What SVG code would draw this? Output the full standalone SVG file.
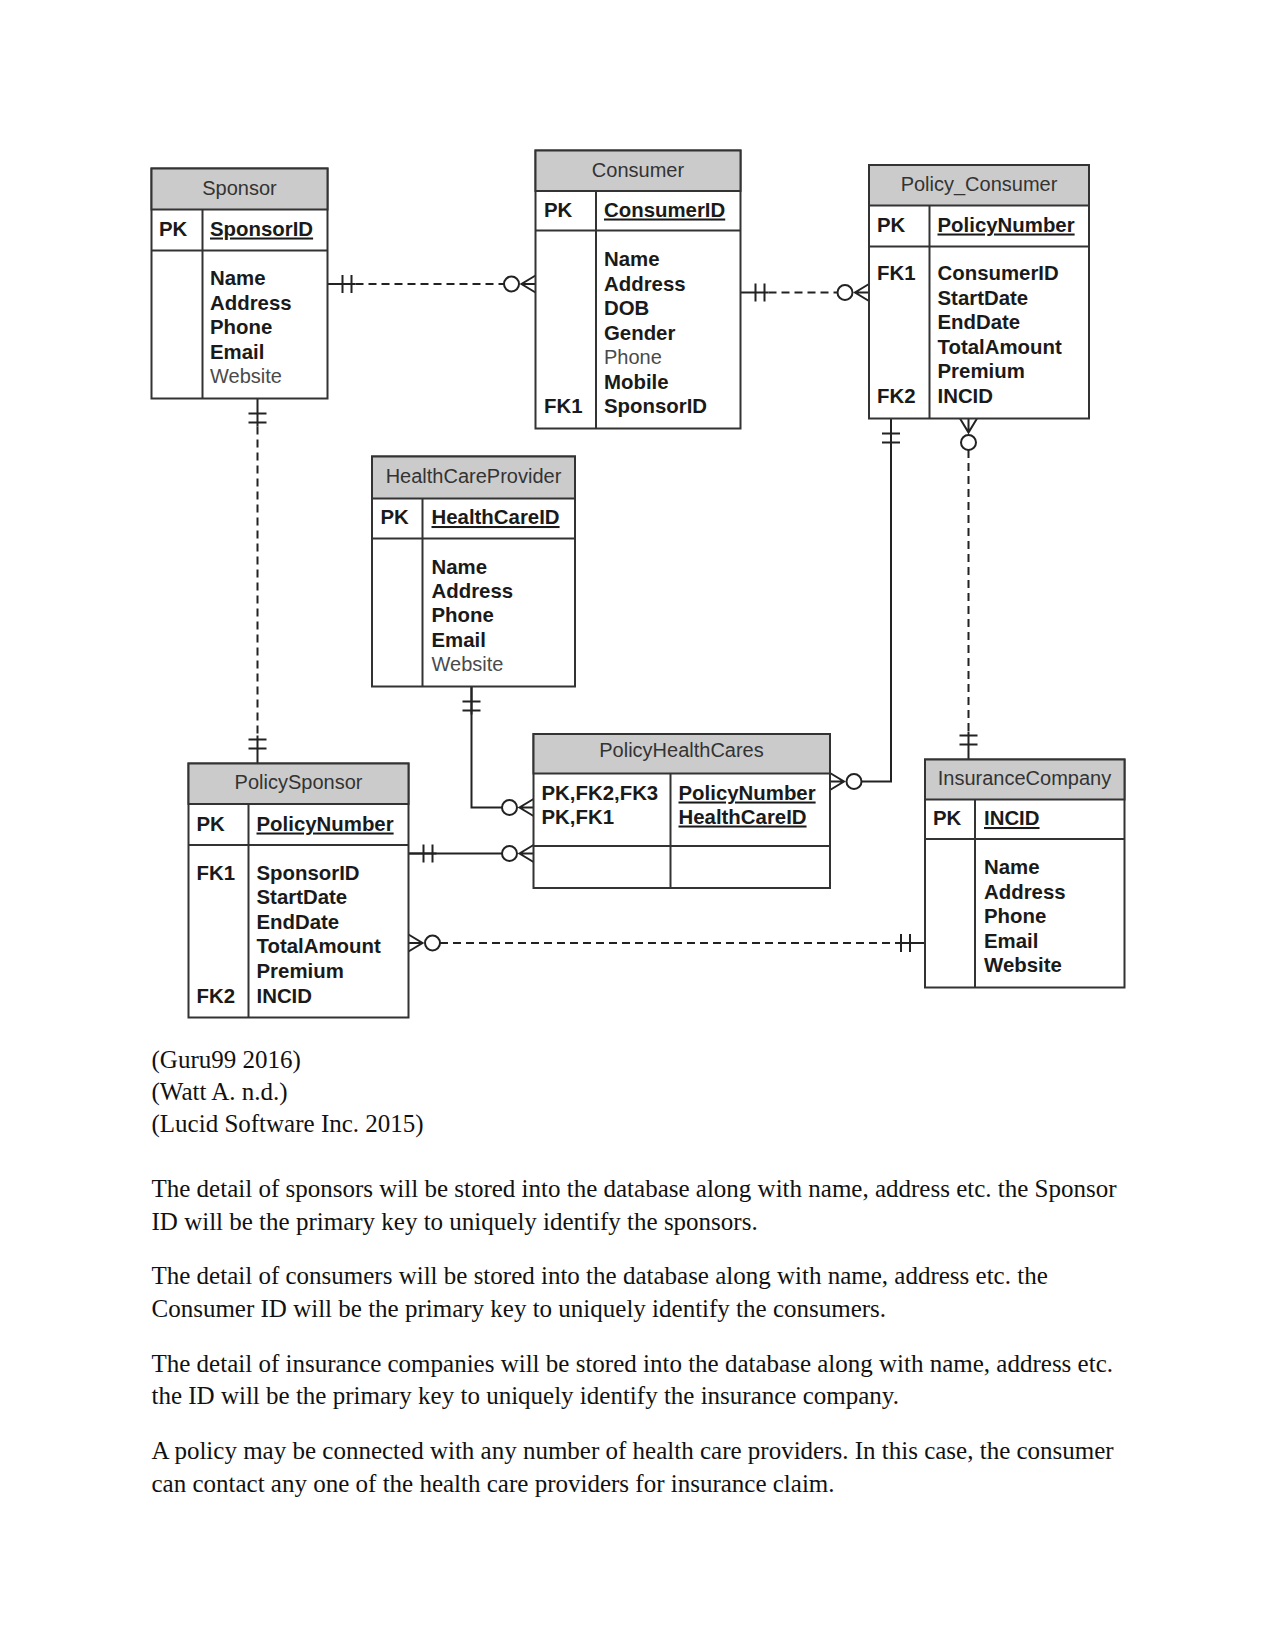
<svg xmlns="http://www.w3.org/2000/svg" xmlns:xlink="http://www.w3.org/1999/xlink" width="1275" height="1650" viewBox="0 0 1275 1650">
<style>
.box{fill:#fff;stroke:#333;stroke-width:2}
.hdr{fill:#cbcbcb;stroke:#333;stroke-width:2}
.ln{stroke:#333;stroke-width:2}
.t{font-family:"Liberation Sans",Arial,sans-serif;font-size:20px;fill:#333;text-anchor:middle}
.k{font-family:"Liberation Sans",Arial,sans-serif;font-size:20.4px;font-weight:bold;fill:#1a1a1a}
.g{font-family:"Liberation Sans",Arial,sans-serif;font-size:20px;fill:#4a4a4a}
.u{text-decoration:underline}
.p{font-family:"Liberation Serif","Times New Roman",serif;font-size:25px;fill:#111}
.c{stroke:#222;stroke-width:2;fill:none}
.d{stroke-dasharray:8 5}
.m{stroke:#222;stroke-width:2;fill:#fff}
</style>
<defs>
<g id="zm">
<path class="c" d="M0,-8.5 L14,0 L0,8.5 M0,0 H14"/>
<circle class="m" cx="24" cy="0" r="7.5"/>
</g>
<g id="one">
<path class="c" d="M0,0 H28 M15,-9 V9 M24,-9 V9"/>
</g>
</defs>

<rect width="1275" height="1650" fill="#fff"/>

<g id="connectors">
<!-- Sponsor - Consumer -->
<line class="c d" x1="355.5" y1="284" x2="504" y2="284"/>
<use xlink:href="#one" transform="translate(327.5,284)"/>
<use xlink:href="#zm" transform="translate(535.5,284) rotate(180)"/>
<!-- Consumer - Policy_Consumer -->
<line class="c d" x1="768.5" y1="292.5" x2="837.5" y2="292.5"/>
<use xlink:href="#one" transform="translate(740.5,292.5)"/>
<use xlink:href="#zm" transform="translate(869,292.5) rotate(180)"/>
<!-- Sponsor - PolicySponsor -->
<line class="c d" x1="257.5" y1="426.5" x2="257.5" y2="735.5"/>
<use xlink:href="#one" transform="translate(257.5,398.5) rotate(90)"/>
<use xlink:href="#one" transform="translate(257.5,763.5) rotate(-90)"/>
<!-- HealthCareProvider - PolicyHealthCares -->
<path class="c" d="M471.5,686.5 V807.5 H502"/>
<use xlink:href="#one" transform="translate(471.5,686.5) rotate(90)"/>
<use xlink:href="#zm" transform="translate(533.5,807.5) rotate(180)"/>
<!-- PolicySponsor - PolicyHealthCares -->
<line class="c" x1="408.5" y1="853.5" x2="502" y2="853.5"/>
<use xlink:href="#one" transform="translate(408.5,853.5)"/>
<use xlink:href="#zm" transform="translate(533.5,853.5) rotate(180)"/>
<!-- PolicySponsor - InsuranceCompany -->
<line class="c d" x1="440" y1="943" x2="897" y2="943"/>
<use xlink:href="#zm" transform="translate(408.5,943)"/>
<use xlink:href="#one" transform="translate(925,943) rotate(180)"/>
<!-- Policy_Consumer - PolicyHealthCares -->
<path class="c" d="M891,418.5 V781.5 H861.5"/>
<use xlink:href="#one" transform="translate(891,418.5) rotate(90)"/>
<use xlink:href="#zm" transform="translate(830,781.5)"/>
<!-- Policy_Consumer - InsuranceCompany -->
<line class="c d" x1="968.5" y1="450" x2="968.5" y2="731.5"/>
<use xlink:href="#zm" transform="translate(968.5,418.5) rotate(90)"/>
<use xlink:href="#one" transform="translate(968.5,759.5) rotate(-90)"/>
</g>

<g id="sponsor">
<rect class="box" x="151.5" y="168.5" width="176" height="230"/>
<rect class="hdr" x="151.5" y="168.5" width="176" height="41"/>
<line class="ln" x1="151.5" y1="250.5" x2="327.5" y2="250.5"/>
<line class="ln" x1="202.5" y1="209.5" x2="202.5" y2="398.5"/>
<text class="t" x="239.5" y="195">Sponsor</text>
<text class="k" x="159" y="235.5">PK</text>
<text class="k u" x="210" y="235.5">SponsorID</text>
<text class="k"><tspan x="210" y="285">Name</tspan><tspan x="210" y="309.5">Address</tspan><tspan x="210" y="334">Phone</tspan><tspan x="210" y="358.5">Email</tspan></text>
<text class="g" x="210" y="383">Website</text>
</g>

<g id="consumer">
<rect class="box" x="535.5" y="150.5" width="205" height="278"/>
<rect class="hdr" x="535.5" y="150.5" width="205" height="40.5"/>
<line class="ln" x1="535.5" y1="230.5" x2="740.5" y2="230.5"/>
<line class="ln" x1="596" y1="191" x2="596" y2="428.5"/>
<text class="t" x="638" y="176.5">Consumer</text>
<text class="k" x="544" y="216.5">PK</text>
<text class="k u" x="604" y="216.5">ConsumerID</text>
<text class="k"><tspan x="604" y="266">Name</tspan><tspan x="604" y="290.5">Address</tspan><tspan x="604" y="315">DOB</tspan><tspan x="604" y="339.5">Gender</tspan></text>
<text class="g" x="604" y="364">Phone</text>
<text class="k"><tspan x="604" y="388.5">Mobile</tspan><tspan x="604" y="413">SponsorID</tspan></text>
<text class="k" x="544" y="413">FK1</text>
</g>

<g id="policy_consumer">
<rect class="box" x="869" y="165" width="220" height="253.5"/>
<rect class="hdr" x="869" y="165" width="220" height="40.5"/>
<line class="ln" x1="869" y1="246.5" x2="1089" y2="246.5"/>
<line class="ln" x1="929.5" y1="205.5" x2="929.5" y2="418.5"/>
<text class="t" x="979" y="191">Policy_Consumer</text>
<text class="k" x="877" y="231.5">PK</text>
<text class="k u" x="937.5" y="231.5">PolicyNumber</text>
<text class="k"><tspan x="877" y="280">FK1</tspan><tspan x="877" y="403">FK2</tspan></text>
<text class="k"><tspan x="937.5" y="280">ConsumerID</tspan><tspan x="937.5" y="304.5">StartDate</tspan><tspan x="937.5" y="329">EndDate</tspan><tspan x="937.5" y="353.5">TotalAmount</tspan><tspan x="937.5" y="378">Premium</tspan><tspan x="937.5" y="403">INCID</tspan></text>
</g>

<g id="healthcareprovider">
<rect class="box" x="372" y="456.5" width="203" height="230"/>
<rect class="hdr" x="372" y="456.5" width="203" height="42"/>
<line class="ln" x1="372" y1="538.5" x2="575" y2="538.5"/>
<line class="ln" x1="422.5" y1="498.5" x2="422.5" y2="686.5"/>
<text class="t" x="473.5" y="483">HealthCareProvider</text>
<text class="k" x="380.5" y="524">PK</text>
<text class="k u" x="431.5" y="524">HealthCareID</text>
<text class="k"><tspan x="431.5" y="573.5">Name</tspan><tspan x="431.5" y="597.5">Address</tspan><tspan x="431.5" y="622">Phone</tspan><tspan x="431.5" y="646.5">Email</tspan></text>
<text class="g" x="431.5" y="671">Website</text>
</g>

<g id="policysponsor">
<rect class="box" x="188.5" y="763.5" width="220" height="254"/>
<rect class="hdr" x="188.5" y="763.5" width="220" height="40.5"/>
<line class="ln" x1="188.5" y1="845" x2="408.5" y2="845"/>
<line class="ln" x1="248.5" y1="804" x2="248.5" y2="1017.5"/>
<text class="t" x="298.5" y="789">PolicySponsor</text>
<text class="k" x="196.5" y="830.5">PK</text>
<text class="k u" x="256.5" y="830.5">PolicyNumber</text>
<text class="k"><tspan x="196.5" y="879.5">FK1</tspan><tspan x="196.5" y="1002.5">FK2</tspan></text>
<text class="k"><tspan x="256.5" y="879.5">SponsorID</tspan><tspan x="256.5" y="904">StartDate</tspan><tspan x="256.5" y="928.5">EndDate</tspan><tspan x="256.5" y="953">TotalAmount</tspan><tspan x="256.5" y="977.5">Premium</tspan><tspan x="256.5" y="1002.5">INCID</tspan></text>
</g>

<g id="policyhealthcares">
<rect class="box" x="533.5" y="734" width="296.5" height="154"/>
<rect class="hdr" x="533.5" y="734" width="296.5" height="39.5"/>
<line class="ln" x1="533.5" y1="846" x2="830" y2="846"/>
<line class="ln" x1="670.5" y1="773.5" x2="670.5" y2="888"/>
<text class="t" x="681.5" y="757">PolicyHealthCares</text>
<text class="k"><tspan x="541.5" y="799.5">PK,FK2,FK3</tspan><tspan x="541.5" y="823.5">PK,FK1</tspan></text>
<text class="k u"><tspan x="678.5" y="799.5">PolicyNumber</tspan><tspan x="678.5" y="823.5">HealthCareID</tspan></text>
</g>

<g id="insurancecompany">
<rect class="box" x="925" y="759.5" width="199.5" height="228"/>
<rect class="hdr" x="925" y="759.5" width="199.5" height="40"/>
<line class="ln" x1="925" y1="839" x2="1124.5" y2="839"/>
<line class="ln" x1="975" y1="799.5" x2="975" y2="987.5"/>
<text class="t" x="1024.5" y="785">InsuranceCompany</text>
<text class="k" x="933" y="825">PK</text>
<text class="k u" x="984" y="825">INCID</text>
<text class="k"><tspan x="984" y="874">Name</tspan><tspan x="984" y="898.5">Address</tspan><tspan x="984" y="923">Phone</tspan><tspan x="984" y="947.5">Email</tspan><tspan x="984" y="972">Website</tspan></text>
</g>

<g id="notes" class="p">
<text x="151.5" y="1068">(Guru99 2016)</text>
<text x="151.5" y="1100">(Watt A. n.d.)</text>
<text x="151.5" y="1132">(Lucid Software Inc. 2015)</text>
<text x="151.5" y="1197">The detail of sponsors will be stored into the database along with name, address etc. the Sponsor</text>
<text x="151.5" y="1229.5">ID will be the primary key to uniquely identify the sponsors.</text>
<text x="151.5" y="1284">The detail of consumers will be stored into the database along with name, address etc. the</text>
<text x="151.5" y="1316.5">Consumer ID will be the primary key to uniquely identify the consumers.</text>
<text x="151.5" y="1371.5">The detail of insurance companies will be stored into the database along with name, address etc.</text>
<text x="151.5" y="1404">the ID will be the primary key to uniquely identify the insurance company.</text>
<text x="151.5" y="1459">A policy may be connected with any number of health care providers. In this case, the consumer</text>
<text x="151.5" y="1491.5">can contact any one of the health care providers for insurance claim.</text>
</g>
</svg>
